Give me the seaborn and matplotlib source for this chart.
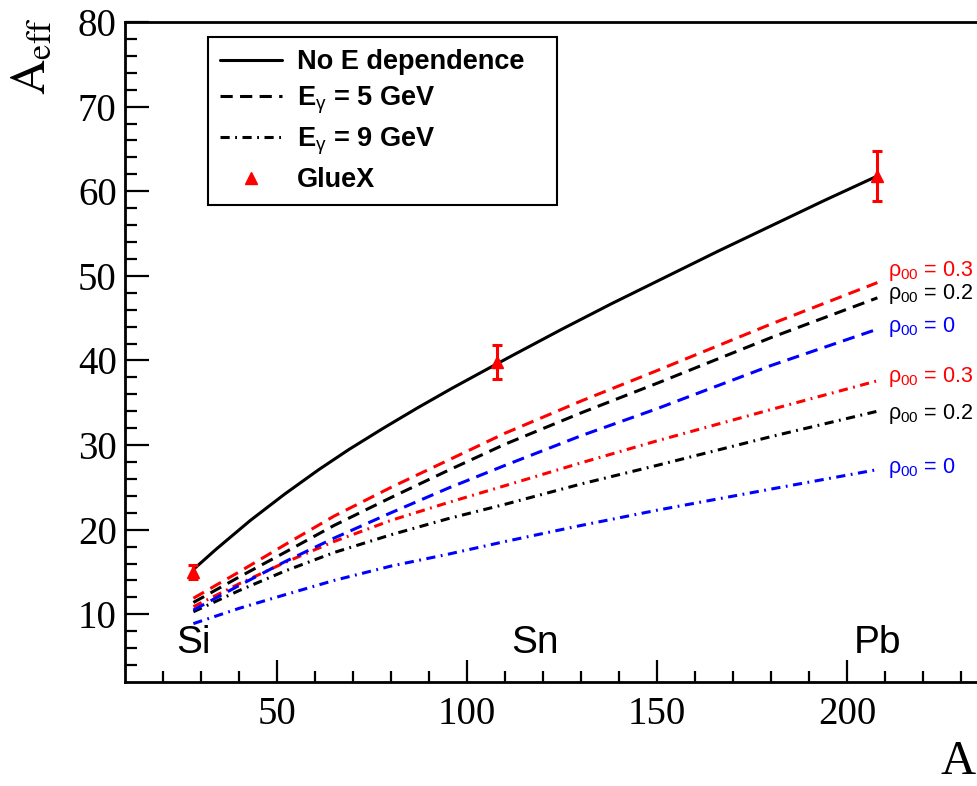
import numpy as np
import pandas as pd
import matplotlib
matplotlib.use("Agg")
import matplotlib.pyplot as plt
from matplotlib.lines import Line2D
import seaborn as sns

# ---------------- data ----------------
A_model = [28, 40, 52, 65, 80, 95, 110, 130, 150, 180, 208]
e5_rho03 = [11.9, 15.0, 18.2, 21.6, 25.0, 28.2, 31.4, 35.2, 38.8, 44.3, 49.2]
e5_rho02 = [11.4, 14.4, 17.3, 20.5, 23.8, 27.0, 30.1, 33.8, 37.3, 42.7, 47.4]
e5_rho00 = [10.5, 13.4, 16.2, 19.0, 22.0, 24.9, 27.6, 31.1, 34.3, 39.4, 43.7]
e9_rho03 = [10.9, 13.6, 16.1, 18.6, 21.1, 23.2, 25.2, 27.9, 30.5, 34.2, 37.6]
e9_rho02 = [10.3, 12.8, 15.1, 17.3, 19.4, 21.3, 23.0, 25.4, 27.6, 31.0, 34.0]
e9_rho00 = [8.9, 10.7, 12.3, 14.0, 15.7, 17.1, 18.6, 20.5, 22.3, 24.8, 27.1]

A_noE = [28, 34, 43, 52, 61, 69, 78, 87, 96, 105, 112, 125, 138, 152, 166, 180, 194, 208]
noE = [15.3, 17.7, 21.1, 24.2, 27.1, 29.5, 32.0, 34.4, 36.7, 38.9, 40.6, 43.7, 46.7,
       49.8, 52.9, 55.9, 58.9, 61.8]

A_gluex = [28, 108, 208]
gluex = [15.0, 39.8, 61.8]
gluex_err = [0.8, 2.0, 3.0]

elements = ["Si", "Sn", "Pb"]
element_label_A = [28, 118, 208]

rho_labels = ["0.3", "0.2", "0", "0.3", "0.2", "0"]
rho_label_y = [50.6, 47.9, 44.0, 38.0, 33.7, 27.3]
rho_label_colors = ["red", "black", "blue", "red", "black", "blue"]

legend_labels = ["No E dependence", r"$\mathbf{E}_{\mathrm{\gamma}}$ = 5 GeV",
                 r"$\mathbf{E}_{\mathrm{\gamma}}$ = 9 GeV", "GlueX"]

# ---------------- long-form table ----------------
rows = []
for E, rho, vals in [("5", "0.3", e5_rho03), ("5", "0.2", e5_rho02), ("5", "0", e5_rho00),
                     ("9", "0.3", e9_rho03), ("9", "0.2", e9_rho02), ("9", "0", e9_rho00)]:
    for a, v in zip(A_model, vals):
        rows.append({"A": a, "Aeff": v, "E": E, "rho": rho, "curve": E + "_" + rho})
df = pd.DataFrame(rows)
df_noE = pd.DataFrame({"A": A_noE, "Aeff": noE})

# ---------------- style ----------------
sns.set_style("white")
plt.rcParams["font.family"] = ["Liberation Sans", "DejaVu Sans"]
plt.rcParams["text.color"] = "black"
plt.rcParams["axes.labelcolor"] = "black"
plt.rcParams["xtick.color"] = "black"
plt.rcParams["ytick.color"] = "black"
plt.rcParams["mathtext.fontset"] = "custom"
plt.rcParams["mathtext.rm"] = "Liberation Sans"
plt.rcParams["mathtext.it"] = "Liberation Sans:italic"
plt.rcParams["mathtext.bf"] = "Liberation Sans:bold"

fig = plt.figure(figsize=(9.78, 7.86), dpi=100)
W, H = 978.0, 786.0
ax = fig.add_axes([125 / W, 1 - 682 / H, (999 - 125) / W, (682 - 22) / H])

LW = 2.2
palette = {"0.3": "red", "0.2": "black", "0": "blue"}
dashes = {"5": (4, 2.4), "9": (3, 1.8, 0.6, 1.8)}

sns.lineplot(data=df, x="A", y="Aeff", hue="rho", style="E", units="curve",
             estimator=None, palette=palette, dashes=dashes, legend=False,
             lw=LW, ax=ax, sort=True)
sns.lineplot(data=df_noE, x="A", y="Aeff", color="black", lw=LW, ax=ax,
             estimator=None, legend=False)

ax.errorbar(A_gluex, gluex, yerr=gluex_err, fmt="^", color="red", ms=9,
            elinewidth=2.2, capsize=3.5, capthick=2.2, zorder=5)

# axes ranges / ticks
ax.set_xlim(10, 240)
ax.set_ylim(2, 80)
ax.set_xticks([50, 100, 150, 200])
ax.set_xticks(np.arange(20, 240, 10), minor=True)
ax.set_yticks(np.arange(10, 81, 10))
ax.set_yticks(np.arange(4, 80, 2), minor=True)
ax.tick_params(axis="both", which="both", direction="in", width=1.6, colors="black",
               bottom=True, left=True, top=False, right=False)
ax.tick_params(axis="y", which="major", length=17, pad=6)
ax.tick_params(axis="y", which="minor", length=8.5)
ax.tick_params(axis="x", which="major", length=16, pad=10)
ax.tick_params(axis="x", which="minor", length=8)
for lab in ax.get_xticklabels() + ax.get_yticklabels():
    lab.set_fontfamily("Liberation Serif")
    lab.set_fontsize(28)
for s in ["left", "bottom", "top", "right"]:
    ax.spines[s].set_linewidth(2.0)
    ax.spines[s].set_color("black")
ax.set_xlabel("")
ax.set_ylabel("")

# axis titles
fig.text(33 / W, 1 - 18 / H, r"$\mathrm{A_{eff}}$", rotation=90, ha="center", va="top",
         fontsize=35, math_fontfamily="stix")
fig.text(976 / W, 1 - 784 / H, "A", ha="right", va="bottom", fontsize=35,
         family="Liberation Serif")

# element labels
for name, a in zip(elements, element_label_A):
    ax.text(a, 6.65, name, ha="center", va="center", fontsize=28,
            family="Liberation Sans")

# rho labels
for txt, y, c in zip(rho_labels, rho_label_y, rho_label_colors):
    ax.text(210.8, y, r"$\mathrm{\rho_{00}}$ = " + txt, color=c, ha="left", va="center",
            fontsize=15.5, clip_on=False)

# legend
handles = [Line2D([], [], color="black", lw=LW),
           Line2D([], [], color="black", lw=LW, dashes=dashes["5"]),
           Line2D([], [], color="black", lw=LW, dashes=dashes["9"]),
           Line2D([], [], color="red", marker="^", ls="none", ms=9)]
leg = ax.legend(handles, legend_labels, loc="upper left",
                bbox_to_anchor=(208 / W, 1 - 37 / H, 349 / W, 0),
                bbox_transform=fig.transFigure, mode="expand", borderaxespad=0,
                prop={"family": "Liberation Sans", "weight": "bold", "size": 19.5},
                handlelength=2.3, handletextpad=0.55, labelspacing=0.36,
                borderpad=0.45, fancybox=False, framealpha=1, edgecolor="black")
leg.get_frame().set_linewidth(1.5)
for t in leg.get_texts():
    t.set_color("black")

fig.savefig("out.png", dpi=100)
